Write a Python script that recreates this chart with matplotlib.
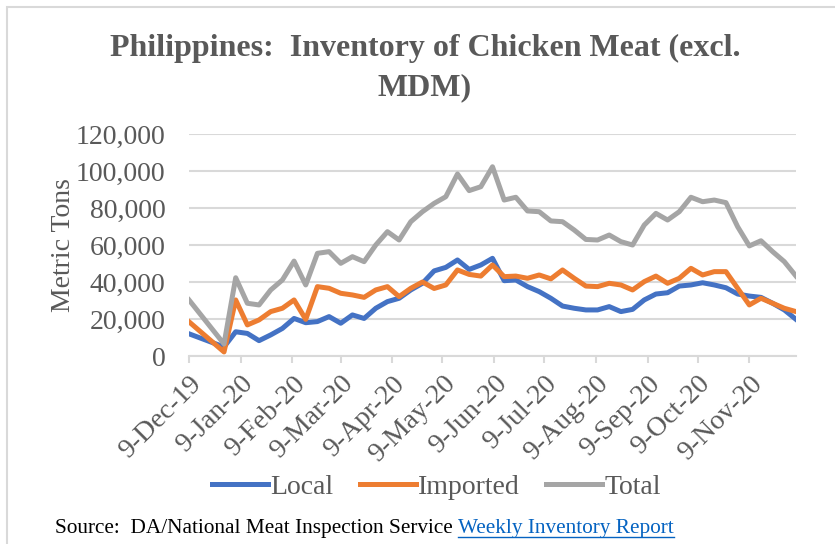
import matplotlib
matplotlib.use("Agg")
import matplotlib.pyplot as plt
import pandas as pd
from matplotlib.patches import Rectangle
from matplotlib.lines import Line2D

plt.rcParams['font.family'] = ['Liberation Serif', 'DejaVu Serif']

# weekly report dates (no reports between 9-Dec and 30-Dec 2019)
dates = ["2019-12-09", "2019-12-30",
         "2020-01-06", "2020-01-13", "2020-01-20", "2020-01-27",
         "2020-02-03", "2020-02-10", "2020-02-17", "2020-02-24",
         "2020-03-02", "2020-03-09", "2020-03-16", "2020-03-23", "2020-03-30",
         "2020-04-06", "2020-04-13", "2020-04-20", "2020-04-27",
         "2020-05-04", "2020-05-11", "2020-05-18", "2020-05-25",
         "2020-06-01", "2020-06-08", "2020-06-15", "2020-06-22", "2020-06-29",
         "2020-07-06", "2020-07-13", "2020-07-20", "2020-07-27",
         "2020-08-03", "2020-08-10", "2020-08-17", "2020-08-24", "2020-08-31",
         "2020-09-07", "2020-09-14", "2020-09-21", "2020-09-28",
         "2020-10-05", "2020-10-12", "2020-10-19", "2020-10-26",
         "2020-11-02", "2020-11-09", "2020-11-16", "2020-11-23", "2020-11-30",
         "2020-12-07"]

local = [12000, 4900,
         13100, 12200, 8300, 11400, 14900, 20300, 18000, 18600, 21300, 17700,
         22200, 20300, 25800, 29400, 31200, 35700, 39300, 46000, 47900, 51900,
         46800, 49200, 52800, 40700, 41100, 37500, 34800, 31200, 27000, 25800,
         24900, 24900, 26700, 24000, 25200, 30300, 33500, 34200, 37800, 38400,
         39600, 38400, 36900, 33500, 32400, 31700, 28500, 24900, 19800]

imported = [18500, 2200,
            30300, 16800, 19500, 24000, 25800, 30300, 19800, 37500, 36600, 33900,
            33000, 31700, 35700, 37500, 32100, 36600, 40000, 36500, 38400, 46500,
            44100, 43200, 49200, 42900, 43200, 42000, 43800, 41700, 46500, 42000,
            37800, 37500, 39300, 38400, 35700, 40200, 43200, 39300, 42000, 47400,
            43800, 45600, 45600, 36600, 27600, 31200, 28500, 25800, 24000]

total = [30300, 6500,
         42300, 28500, 27600, 35700, 41100, 51300, 38400, 55500, 56400, 50100,
         53700, 51000, 60000, 67200, 62700, 72600, 78000, 82500, 86100, 98400,
         89400, 91500, 102300, 84300, 85800, 78400, 78000, 73000, 72600, 68100,
         63000, 62700, 65400, 61800, 60000, 70800, 77100, 73500, 78000, 85800,
         83400, 84300, 82900, 69900, 59500, 62300, 56400, 51000, 43200]

tick_dates = ["2019-12-09", "2020-01-09", "2020-02-09", "2020-03-09",
              "2020-04-09", "2020-05-09", "2020-06-09", "2020-07-09",
              "2020-08-09", "2020-09-09", "2020-10-09", "2020-11-09"]
tick_labels = ["9-Dec-19", "9-Jan-20", "9-Feb-20", "9-Mar-20", "9-Apr-20",
               "9-May-20", "9-Jun-20", "9-Jul-20", "9-Aug-20", "9-Sep-20",
               "9-Oct-20", "9-Nov-20"]

x = pd.to_datetime(dates)
text_gray = "#595959"
grid_gray = "#d9d9d9"

fig = plt.figure(figsize=(8.35, 5.44), dpi=100)
fig.patches.append(Rectangle((7 / 835, -0.1), 1.0, 1.1 - 7 / 544,
                             transform=fig.transFigure, fill=False,
                             edgecolor=grid_gray, linewidth=1.5))

ax = fig.add_axes([189 / 835, 1 - 356 / 544, (796 - 189) / 835, 222 / 544])
ax.plot(x, local, color="#4472C4", linewidth=3.6, label="Local",
        solid_joinstyle="round", zorder=3)
ax.plot(x, imported, color="#ED7D31", linewidth=3.6, label="Imported",
        solid_joinstyle="round", zorder=3)
ax.plot(x, total, color="#A5A5A5", linewidth=3.6, label="Total",
        solid_joinstyle="round", zorder=3)

ax.set_xlim(x[0], x[-1])
ax.set_ylim(0, 120000)
ax.set_yticks(range(0, 120001, 20000))
ax.set_yticklabels([f"{v:,}" for v in range(0, 120001, 20000)])
ax.yaxis.grid(True, color=grid_gray, linewidth=1.5)
ax.set_axisbelow(True)

ax.set_xticks(pd.to_datetime(tick_dates))
ax.set_xticklabels(tick_labels, rotation=45, ha="right", rotation_mode="anchor")

for s in ["top", "right", "left"]:
    ax.spines[s].set_visible(False)
ax.spines["bottom"].set_color(grid_gray)
ax.spines["bottom"].set_linewidth(1.5)
ax.tick_params(axis="y", length=0, pad=17, labelsize=20, labelcolor=text_gray)
ax.tick_params(axis="x", length=5, width=1.5, color=grid_gray, pad=6,
               labelsize=20, labelcolor=text_gray)

ax.set_ylabel("Metric Tons", fontsize=20, color=text_gray, labelpad=0)

fig.text(0.509, 1 - 68 / 544, "Philippines:  Inventory of Chicken Meat (excl.\nMDM)",
         ha="center", va="center", fontsize=23, fontweight="bold",
         color=text_gray, linespacing=1.45)

fig.legend(loc="center", bbox_to_anchor=(0.523, 1 - 487 / 544), ncol=3,
           frameon=False, fontsize=20, labelcolor=text_gray,
           handlelength=2.0, handletextpad=0.1, columnspacing=0.95)

src = fig.text(55 / 835, 1 - 529 / 544, "Source:  DA/National Meat Inspection Service ",
               ha="left", va="center", fontsize=15.3, color="black")
fig.canvas.draw()
r = fig.canvas.get_renderer()
bb = src.get_window_extent(r)
link = fig.text(bb.x1 / fig.bbox.width, 1 - 529 / 544, "Weekly Inventory Report",
                ha="left", va="center", fontsize=15.3, color="#0563C1")
lb = link.get_window_extent(r)
uy = (lb.y0 + 2) / fig.bbox.height
fig.add_artist(Line2D([lb.x0 / fig.bbox.width, lb.x1 / fig.bbox.width], [uy, uy],
                      transform=fig.transFigure, color="#0563C1", linewidth=1))

fig.savefig("out.png", dpi=100)
